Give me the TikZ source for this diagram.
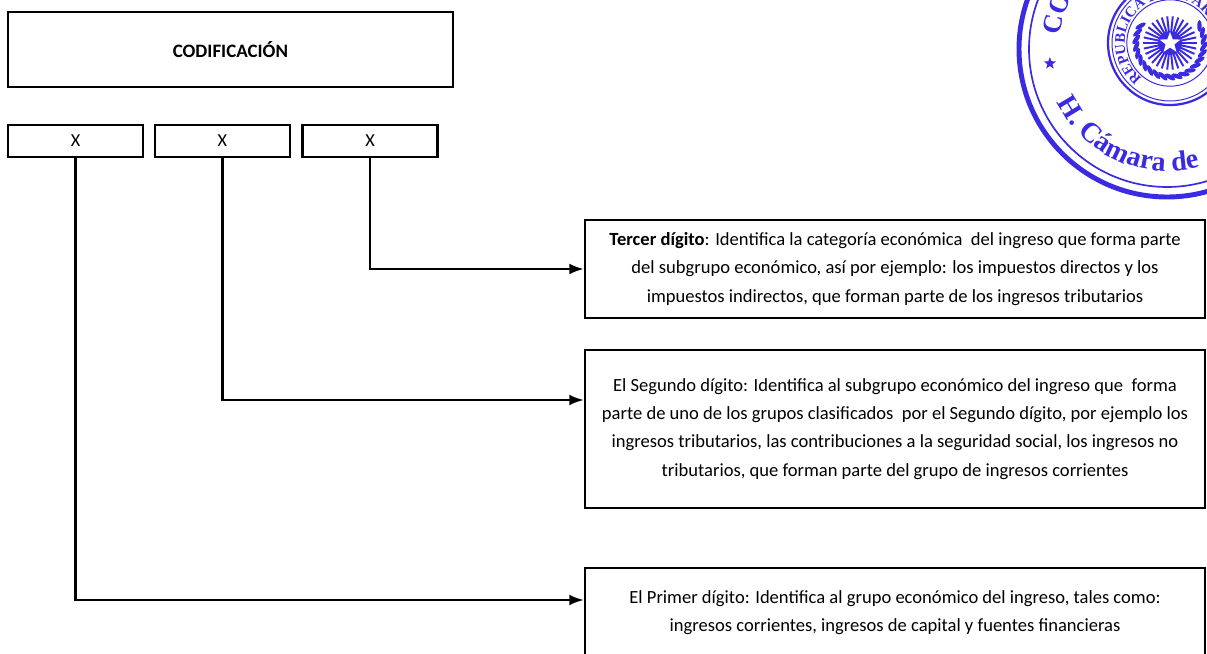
\documentclass[tikz,border=0pt]{standalone}
\usepackage{fontspec}
\setmainfont{Carlito}
\newfontfamily\stampfont{Liberation Serif}
\usepackage{xcolor}
\usetikzlibrary{arrows.meta,positioning,decorations.text,shapes.geometric}
\tikzset{>={Latex[length=3.6mm,width=2.7mm]}}
\definecolor{stampblue}{RGB}{58,42,225}

\begin{document}
\begin{tikzpicture}[
    box/.style={draw, line width=1.8pt, inner sep=0pt},
    digitbox/.style={box, minimum width=3.375cm, minimum height=0.8cm, font=\fontsize{13}{15}\selectfont},
    infobox/.style={box, minimum width=15.5cm, align=center, font=\fontsize{13.2}{20}\selectfont},
    link/.style={line width=1.6pt, ->}
  ]
  \useasboundingbox (0, 0) rectangle (30.175, -16.35);
  \node[box, minimum width=11.125cm, minimum height=1.875cm, font=\bfseries\fontsize{13.5}{15}\selectfont] (cod) at (5.76, -1.24) {CODIFICACIÓN};
  \node[digitbox] (d1) at (1.89, -3.525) {X};
  \node[digitbox] (d2) at (5.56, -3.525) {X};
  \node[digitbox] (d3) at (9.25, -3.525) {X};
  \node[infobox, minimum height=2.45cm] (tercer) at (22.375, -6.725) {\textbf{Tercer dígito}: Identifica la categoría económica \ del ingreso que forma parte\\ del subgrupo económico, así por ejemplo: los impuestos directos y los\\ impuestos indirectos, que forman parte de los ingresos tributarios};
  \node[infobox, minimum height=3.95cm] (segundo) at (22.375, -10.725) {El Segundo dígito: Identifica al subgrupo económico del ingreso que \ forma\\ parte de uno de los grupos clasificados \ por el Segundo dígito, por ejemplo los\\ ingresos tributarios, las contribuciones a la seguridad social, los ingresos no\\ tributarios, que forman parte del grupo de ingresos corrientes};
  \node[infobox, minimum height=2.25cm] (primer) at (22.375, -15.325) {El Primer dígito: Identifica al grupo económico del ingreso, tales como:\\ ingresos corrientes, ingresos de capital y fuentes financieras};
  \draw[link] (d3.south) |- (tercer.west);
  \draw[link] (d2.south) |- ([yshift=7.25mm]segundo.west);
  \draw[link] (d1.south) |- ([yshift=3.25mm]primer.west);
  % sello
  \coordinate (sello) at (29.175, -1.225);
  \coordinate (escudo) at (29.25, -1.075);
  \begin{scope}[stampblue]
    \draw[line width=3.5pt] (sello) circle (3.7);
    \draw[line width=1.2pt] (sello) circle (3.45);
    \path[decorate, decoration={text along path, text color=stampblue, text align=left,
        text={|\stampfont\bfseries\fontsize{20}{20}\selectfont|H. Cámara de}}]
      (sello) ++(206:3.05) arc (206:300:3.05);
    \path[decorate, decoration={text along path, text color=stampblue, text align=left,
        text={|\stampfont\bfseries\fontsize{19}{19}\selectfont|CO}}]
      (sello) ++(173:2.7) arc (173:140:2.7);
    \node[star, star points=5, star point ratio=2.4, fill, inner sep=0pt, minimum size=0.32cm] (estrella) at ([shift={(187:2.95)}]sello) {};
    \draw[line width=1.6pt] (escudo) circle (1.55);
    \draw[line width=0.7pt] (escudo) circle (1.45);
    \draw[line width=0.7pt] (escudo) circle (1.08);
    \path[decorate, decoration={text along path, text color=stampblue, text align=left,
        text={|\stampfont\bfseries\fontsize{10.5}{10.5}\selectfont|REPUBLICA DEL PARAGUAY}}]
      (escudo) ++(232:1.13) arc (232:-40:1.13);
    \foreach \a in {150,162,...,390}
      \node[ellipse, fill, inner sep=0pt, minimum width=0.3cm, minimum height=0.11cm, rotate=\a+60] at ([shift={(\a:0.85)}]escudo) {};
    \fill (escudo) circle (0.3);
    \foreach \a in {0,12,...,348}
      \draw[line width=1.4pt] (escudo) ++(\a:0.22) -- ++(\a:0.45);
    \node[star, star points=5, star point ratio=2.4, fill=white, inner sep=0pt, minimum size=0.55cm] (estrella2) at (escudo) {};
  \end{scope}
\end{tikzpicture}
\end{document}
